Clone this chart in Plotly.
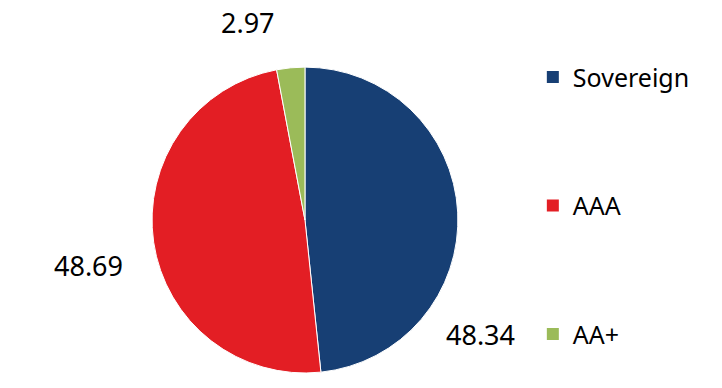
import plotly.graph_objects as go

categories = ["Sovereign", "AAA", "AA+"]
values = [48.34, 48.69, 2.97]
colors = ["#173F74", "#E31E24", "#9BBB59"]
# label anchor spots (paper coords) for the outside data labels
label_pos = [(0.665, 0.137), (0.122, 0.317), (0.344, 0.943)]

fig = go.Figure()
fig.add_trace(go.Pie(
    labels=categories, values=values, sort=False, direction="clockwise", rotation=0,
    marker=dict(colors=colors, line=dict(color="white", width=1)),
    textinfo="none", showlegend=False, hoverinfo="label+value",
    domain=dict(x=[0.2105, 0.6343], y=[0.0387, 0.827]),
))
for i, (c, col) in enumerate(zip(categories, colors)):
    fig.add_trace(go.Scatter(
        x=[None], y=[None], mode="markers", name=c, legendgroup=c,
        marker=dict(symbol="square", size=16, color=col),
    ))
for v, (px, py) in zip(values, label_pos):
    fig.add_annotation(x=px, y=py, xref="paper", yref="paper", text=f"{v:.2f}",
                       xanchor="center", yanchor="middle",
                       showarrow=False, font=dict(size=27, color="black", family="Noto Sans"))

fig.update_layout(
    width=722, height=388, margin=dict(l=0, r=0, t=0, b=0),
    paper_bgcolor="white", plot_bgcolor="white",
    xaxis=dict(visible=False), yaxis=dict(visible=False),
    font=dict(family="Noto Sans", color="black"),
    legend=dict(x=0.738, y=0.86, xanchor="left", yanchor="top",
                font=dict(size=25, color="black"), tracegroupgap=93,
                itemsizing="constant"),
)
fig.write_html("out.html")
